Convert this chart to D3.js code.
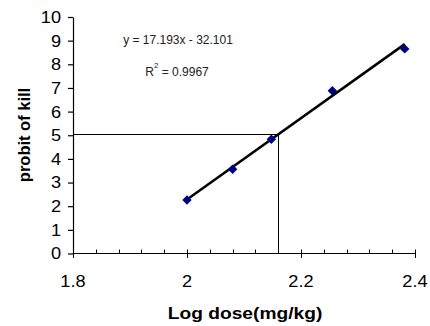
<!DOCTYPE html>
<html>
<head>
<meta charset="utf-8">
<script src="https://cdn.jsdelivr.net/npm/d3@7"></script>
<style>
html,body{margin:0;padding:0;background:#fff;}
svg{display:block;font-family:"Liberation Sans",Arial,sans-serif;}
</style>
</head>
<body>
<svg id="chart" width="430" height="326"></svg>
<script>
const logDose = [2.0, 2.08, 2.148, 2.255, 2.382];
const probit = [2.26, 3.56, 4.83, 6.88, 8.65];
const slope = 17.193;
const intercept = -32.101;
const refPoint = [2.16, 5.05];
const xTicks = [1.8, 2.0, 2.2, 2.4];
const xTickLabels = ["1.8", "2", "2.2", "2.4"];
const xMinorTicks = [1.84, 1.88, 1.92, 1.96, 2.04, 2.08, 2.12, 2.16, 2.24, 2.28, 2.32, 2.36];
const yTicks = [0,1,2,3,4,5,6,7,8,9,10];
const equationText = "y = 17.193x - 32.101";
const r2Text = "0.9967";
const xTitle = "Log dose(mg/kg)";
const yTitle = "probit of kill";

const svg = d3.select("#chart");
const x = d3.scaleLinear().domain([1.8, 2.4]).range([73, 415]);
const y = d3.scaleLinear().domain([0, 10]).range([253.5, 17]);
const snap = v => Math.floor(v) + 0.5;

// Y axis
const yAxis = svg.append("g").attr("transform", "translate(73,0)")
  .call(d3.axisLeft(y).tickValues(yTicks).tickSize(5).tickSizeOuter(0).tickFormat(d3.format("d")));
yAxis.select(".domain").attr("stroke", "#000").attr("stroke-width", 1.2);
yAxis.selectAll(".tick line").attr("stroke", "#000").attr("stroke-width", 1.2);
yAxis.selectAll(".tick text").attr("x", 0).attr("font-size", 17).attr("fill", "#000")
  .attr("font-family", "Liberation Sans, Arial, sans-serif")
  .attr("transform", "translate(-12,0) scale(1.07,1)");

// X axis
const xg = svg.append("g").attr("transform", `translate(0,${y(0)})`);
xg.append("line").attr("x1", x(1.8)).attr("x2", x(2.4)).attr("y1", 0).attr("y2", 0)
  .attr("stroke", "#000").attr("stroke-width", 1);
xg.selectAll(".minor").data(xMinorTicks).join("line")
  .attr("x1", d => Math.round(x(d)) + 0.5).attr("x2", d => Math.round(x(d)) + 0.5)
  .attr("y1", -4).attr("y2", 0).attr("stroke", "#000");
xg.selectAll(".major").data(xTicks).join("line")
  .attr("x1", d => Math.round(x(d)) + 0.5).attr("x2", d => Math.round(x(d)) + 0.5)
  .attr("y1", -4).attr("y2", 4.5).attr("stroke", "#000");
xg.selectAll(".lbl").data(xTicks).join("text")
  .attr("transform", d => `translate(${x(d)},33.5) scale(1.07,1)`)
  .attr("text-anchor", "middle")
  .attr("font-size", 17).attr("fill", "#000")
  .text((d, i) => xTickLabels[i]);

// Reference lines (LD50)
const rx = snap(x(refPoint[0])), ry = snap(y(refPoint[1]));
svg.append("line").attr("x1", x(1.8)).attr("x2", rx)
  .attr("y1", ry).attr("y2", ry).attr("stroke", "#000").attr("stroke-width", 1);
svg.append("line").attr("x1", rx).attr("x2", rx)
  .attr("y1", ry).attr("y2", y(0)).attr("stroke", "#000").attr("stroke-width", 1);

// Regression line
const xMin = d3.min(logDose), xMax = d3.max(logDose);
svg.append("line")
  .attr("x1", x(xMin)).attr("y1", y(slope * xMin + intercept))
  .attr("x2", x(xMax)).attr("y2", y(slope * xMax + intercept))
  .attr("stroke", "#000").attr("stroke-width", 2.5);

// Points (diamonds)
svg.selectAll(".pt").data(logDose).join("path")
  .attr("transform", (d, i) => `translate(${x(d)},${y(probit[i])})`)
  .attr("d", d3.symbol().type(d3.symbolDiamond2).size(56))
  .attr("fill", "#000080");

// Equation text
svg.append("text").attr("x", 178).attr("y", 44).attr("text-anchor", "middle")
  .attr("font-size", 12).attr("fill", "#222").text(equationText);
const r2 = svg.append("text").attr("x", 177).attr("y", 76).attr("text-anchor", "middle")
  .attr("font-size", 12).attr("fill", "#222");
r2.append("tspan").text("R");
r2.append("tspan").attr("dy", -8).attr("font-size", 8).text("2");
r2.append("tspan").attr("dy", 8).text(" = " + r2Text);

// Axis titles
svg.append("text").attr("transform", "translate(245,319) scale(1.13,1)").attr("text-anchor", "middle")
  .attr("font-size", 17).attr("font-weight", "bold").attr("fill", "#000").text(xTitle);
svg.append("text").attr("transform", "translate(30,135) rotate(-90)").attr("text-anchor", "middle")
  .attr("font-size", 16.5).attr("font-weight", "bold").attr("fill", "#000").text(yTitle);
</script>
</body>
</html>
